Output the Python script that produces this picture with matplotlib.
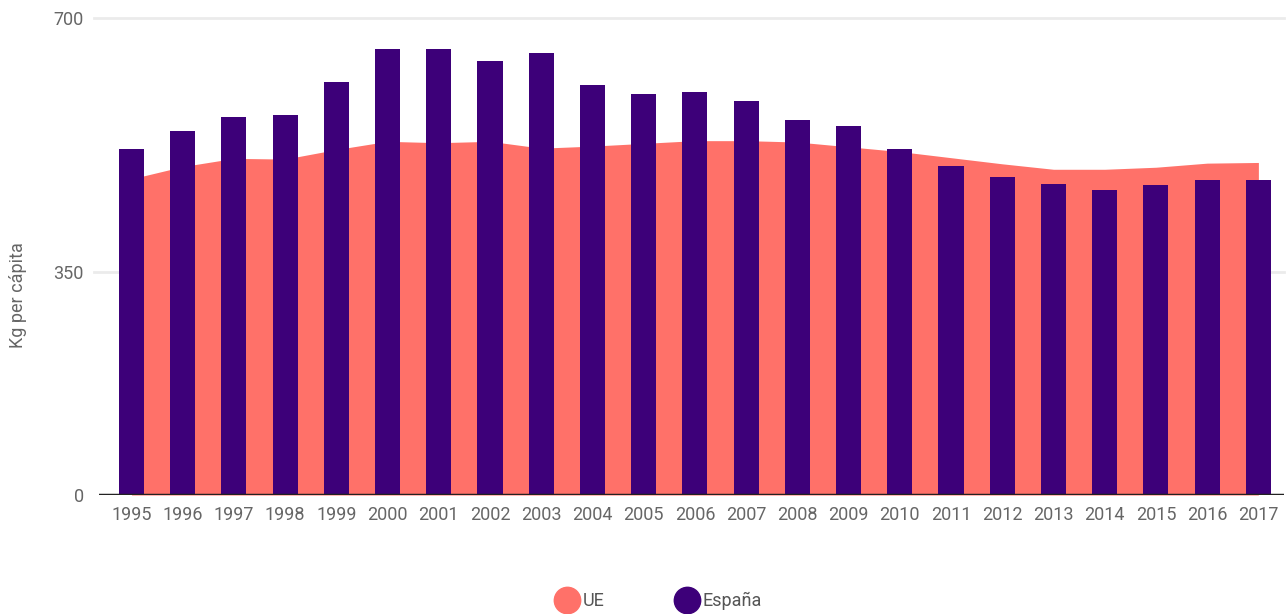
import matplotlib.pyplot as plt
from matplotlib.lines import Line2D
import numpy as np

plt.rcParams['font.family'] = ['Liberation Sans Narrow', 'Roboto', 'DejaVu Sans']

years = [str(y) for y in range(1995, 2018)]

# residuos municipales, kg por habitante
espana = [508, 534, 555, 558, 606, 654, 654, 637, 649, 602, 588, 591, 578,
          550, 541, 508, 483, 467, 456, 448, 455, 462, 462]
ue = [464, 482, 494, 493, 507, 519, 517, 519, 509, 512, 516, 520, 520,
      518, 511, 504, 495, 486, 478, 478, 481, 487, 488]

y_ticks = [0, 327, 700]
y_tick_labels = ['0', '350', '700']

c_ue = '#ff7169'
c_es = '#3d0079'
c_txt = '#666666'

fig = plt.figure(figsize=(12.87, 6.14), dpi=100)
ax = fig.add_axes([99 / 1287, 119 / 614, 1185 / 1287, 477 / 614])

x = np.arange(len(years))
ax.fill_between(x, 0, ue, color=c_ue, linewidth=0, zorder=2)
ax.bar(x, espana, width=0.49, color=c_es, zorder=3)

ax.set_xlim(-0.634, 22.5)
ax.set_ylim(0, 700)
ax.set_xticks(x)
ax.set_xticklabels(years)
ax.set_yticks(y_ticks)
ax.set_yticklabels(y_tick_labels)

for v in y_ticks[1:]:
    ax.axhline(v, color='#ebebeb', lw=2, zorder=1, clip_on=False,
               xmin=-0.004)
ax.axhline(0, color='#222222', lw=2.5, zorder=4)

for s in ax.spines.values():
    s.set_visible(False)
ax.tick_params(axis='both', length=0, labelsize=13, colors=c_txt)
ax.tick_params(axis='x', pad=8)
ax.tick_params(axis='y', pad=11)
fig.text(18 / 1287, 1 - 295 / 614, 'Kg per cápita', rotation=90,
         ha='center', va='center', fontsize=13, color=c_txt)

handles = [
    Line2D([], [], marker='o', ls='none', markersize=19, color=c_ue),
    Line2D([], [], marker='o', ls='none', markersize=19, color=c_es),
]
fig.legend(handles, ['UE', 'España'], loc='center',
           bbox_to_anchor=(658 / 1287, 13 / 614), ncol=2, frameon=False,
           fontsize=13, labelcolor='#555555', handlelength=1.5,
           handletextpad=0.1, columnspacing=3.85)

fig.savefig('out.png', dpi=100)
